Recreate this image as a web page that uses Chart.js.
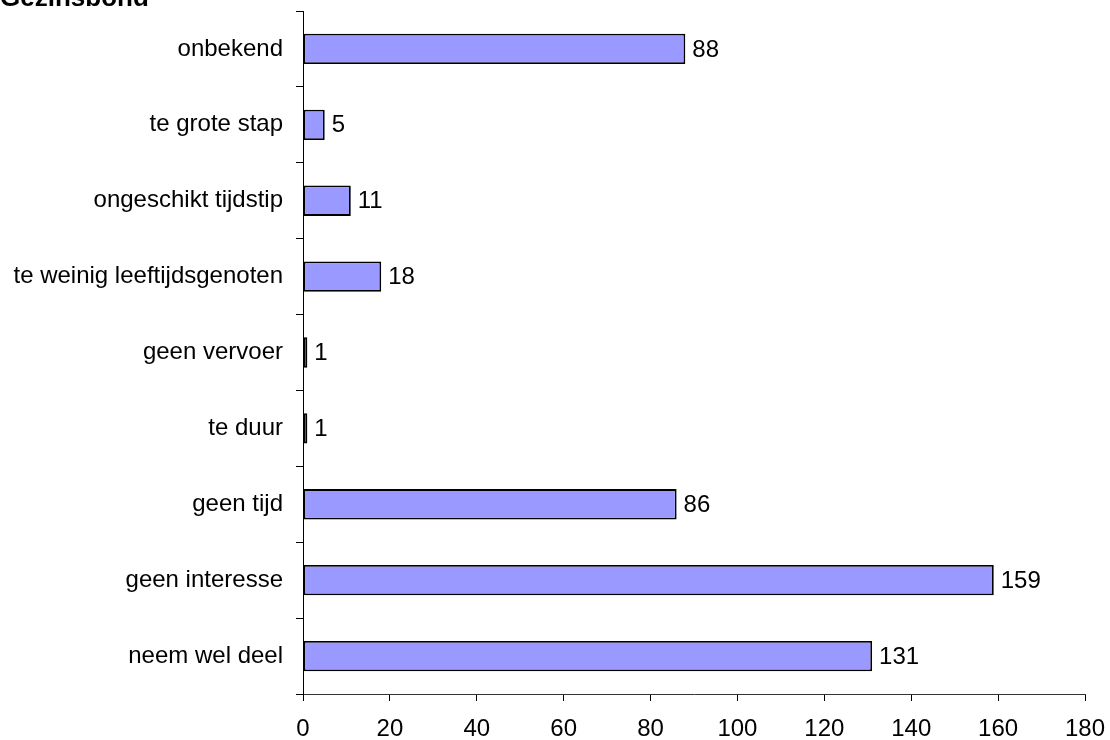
<!DOCTYPE html>
<html>
<head>
<meta charset="utf-8">
<script src="https://cdn.jsdelivr.net/npm/chart.js@4/dist/chart.umd.min.js"></script>
<style>
  html, body { margin: 0; padding: 0; background: #fff; }
  #wrap { width: 1110px; height: 740px; }
</style>
</head>
<body>
<div id="wrap"><canvas id="chart"></canvas></div>
<script>
const categories = [
  "onbekend",
  "te grote stap",
  "ongeschikt tijdstip",
  "te weinig leeftijdsgenoten",
  "geen vervoer",
  "te duur",
  "geen tijd",
  "geen interesse",
  "neem wel deel"
];
const counts = [88, 5, 11, 18, 1, 1, 86, 159, 131];
const titleText = "Gezinsbond";

const fontFamily = "'Liberation Sans', Arial, sans-serif";

// draws the (half cut-off) title and the value labels next to each bar
const extras = {
  id: "extras",
  afterDatasetsDraw(chart) {
    const ctx = chart.ctx;
    ctx.save();
    ctx.fillStyle = "#000";
    ctx.font = "bold 26px " + fontFamily;
    ctx.textAlign = "left";
    ctx.textBaseline = "alphabetic";
    ctx.fillText(titleText, 0, 6);

    ctx.font = "24px " + fontFamily;
    ctx.textBaseline = "middle";
    const meta = chart.getDatasetMeta(0);
    meta.data.forEach((bar, i) => {
      ctx.fillText(String(counts[i]), bar.x + 7, bar.y + 1);
    });
    ctx.restore();
  }
};

new Chart(document.getElementById("chart").getContext("2d"), {
  type: "bar",
  data: {
    labels: categories,
    datasets: [{
      data: counts,
      backgroundColor: "#9999FF",
      borderColor: "#000",
      borderWidth: 1.8,
      borderSkipped: false,
      barPercentage: 0.4,
      categoryPercentage: 1.0
    }]
  },
  options: {
    indexAxis: "y",
    responsive: true,
    maintainAspectRatio: false,
    animation: false,
    layout: { padding: { top: 11, right: 25, left: 0, bottom: 0 } },
    plugins: {
      legend: { display: false },
      tooltip: { enabled: false }
    },
    scales: {
      x: {
        min: 0,
        max: 180,
        ticks: {
          stepSize: 20,
          color: "#000",
          font: { family: fontFamily, size: 24 },
          padding: 14
        },
        grid: {
          drawOnChartArea: false,
          drawTicks: true,
          tickLength: 7,
          color: "#000"
        },
        border: { display: true, color: "#333", width: 1 },
        afterFit(scale) {
          scale.height = 46;
          scale.paddingLeft = 0;
          scale.paddingRight = 0;
        }
      },
      y: {
        ticks: {
          color: "#000",
          font: { family: fontFamily, size: 24 },
          padding: 13
        },
        grid: {
          offset: true,
          drawOnChartArea: false,
          drawTicks: true,
          tickLength: 7,
          color: "#000"
        },
        border: { display: true, color: "#000", width: 1 },
        afterFit(scale) {
          scale.width = 303;
          scale.paddingTop = 0;
          scale.paddingBottom = 0;
        }
      }
    }
  },
  plugins: [extras]
});
</script>
</body>
</html>
